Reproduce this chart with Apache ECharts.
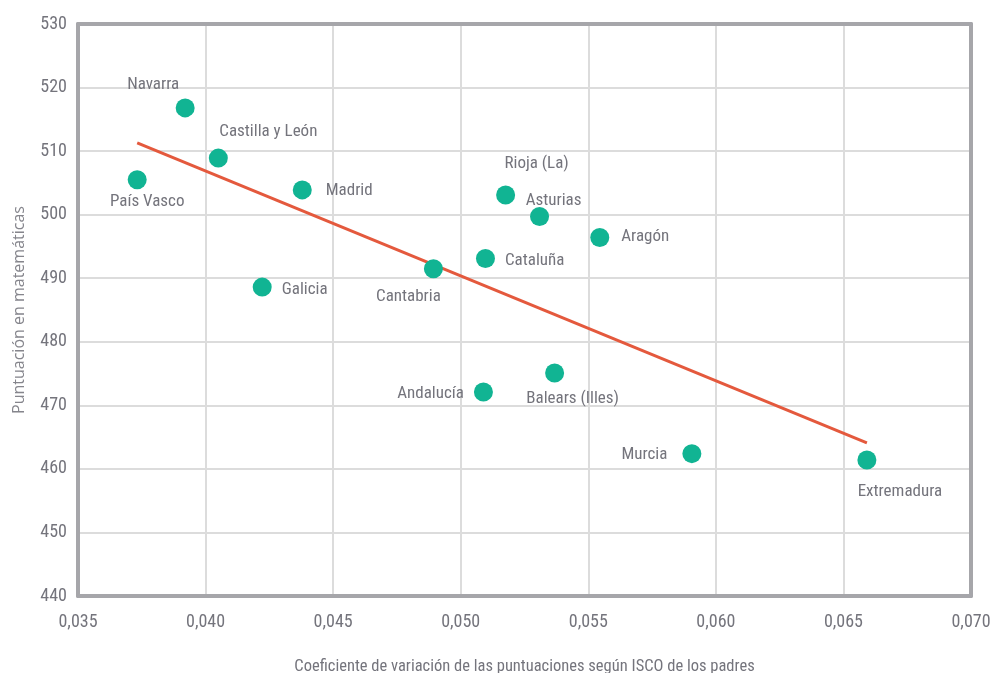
<!DOCTYPE html>
<html><head><meta charset="utf-8">
<script src="https://cdn.jsdelivr.net/npm/echarts@6/dist/echarts.min.js"></script>
<style>html,body{margin:0;padding:0;background:#fff}#c{width:995px;height:673px}</style>
</head><body><div id="c"></div>
<script>
const regions = ['Navarra','Castilla y León','País Vasco','Madrid','Galicia','Cantabria','Cataluña','Rioja (La)','Asturias','Aragón','Andalucía','Balears (Illes)','Murcia','Extremadura'];
const coefVar = [0.0392,0.0405,0.03732,0.04379,0.04222,0.04893,0.05097,0.05176,0.05309,0.05545,0.05089,0.05368,0.05906,0.06592];
const mathScore = [516.8,508.9,505.5,503.9,488.6,491.5,493.1,503.1,499.7,496.4,472.1,475.1,462.4,461.4];
const trendX = [0.03732,0.06592];
const trendY = [511.3,464.1];
const xTicks = ['0,035','0,040','0,045','0,050','0,055','0,060','0,065','0,070'];

const labelPos = {
 'Navarra':['top',[-32,0]],
 'Castilla y León':['top',[50,-3]],
 'País Vasco':['bottom',[10,-1]],
 'Madrid':['right',[9,1]],
 'Galicia':['right',[5,3]],
 'Cantabria':['bottom',[-25,5]],
 'Cataluña':['right',[5,2]],
 'Rioja (La)':['top',[31,-8]],
 'Asturias':['top',[14,7]],
 'Aragón':['right',[7,-1]],
 'Andalucía':['left',[-5,2]],
 'Balears (Illes)':['bottom',[18,3]],
 'Murcia':['left',[-10,1]],
 'Extremadura':['bottom',[33,9]]
};
const FONT = "'Roboto Condensed','DejaVu Sans Condensed',sans-serif";
const TXT = '#74747c';
const BORDER = {show:true,onZero:false,lineStyle:{color:'#a6a6aa',width:4}};
const pts = regions.map((r,i)=>({
  name:r, value:[coefVar[i],mathScore[i]],
  label:{show:true, formatter:r, position:labelPos[r][0], offset:labelPos[r][1], distance:5}
}));
const chart = echarts.init(document.getElementById('c'));
chart.setOption({
  animation:false,
  textStyle:{fontFamily:FONT},
  grid:{left:78,right:24,top:24,bottom:77,containLabel:false,outerBoundsMode:'none'},
  xAxis:[{type:'value',min:0.035,max:0.070,interval:0.005,position:'bottom',
    name:'Coeficiente de variación de las puntuaciones según ISCO de los padres',
    nameLocation:'middle',nameGap:62,nameTextStyle:{color:TXT,fontSize:16.5,fontFamily:FONT},
    axisLine:BORDER,axisTick:{show:false},
    axisLabel:{color:TXT,fontSize:18,fontFamily:FONT,margin:17,formatter:(v)=>{const i=Math.round((v-0.035)/0.005);return xTicks[i]||'';}},
    splitLine:{show:true,lineStyle:{color:'#dcdcdc',width:2}}},
   {type:'value',min:0.035,max:0.070,interval:0.005,position:'top',
    axisLine:BORDER,axisTick:{show:false},axisLabel:{show:false},splitLine:{show:false}}],
  yAxis:[{type:'value',min:440,max:530,interval:10,position:'left',
    name:'Puntuación en matemáticas',nameLocation:'middle',nameGap:51,
    nameTextStyle:{color:'#85858c',fontSize:16,fontFamily:"'Open Sans','Noto Sans',sans-serif"},
    axisLine:BORDER,axisTick:{show:false},
    axisLabel:{color:TXT,fontSize:18,fontFamily:FONT,margin:11},
    splitLine:{show:true,lineStyle:{color:'#dcdcdc',width:2}}},
   {type:'value',min:440,max:530,interval:10,position:'right',
    axisLine:BORDER,axisTick:{show:false},axisLabel:{show:false},splitLine:{show:false}}],
  series:[
    {type:'line',data:trendX.map((x,i)=>[x,trendY[i]]),symbol:'none',lineStyle:{color:'#e4593d',width:3},z:3},
    {type:'scatter',data:pts,symbolSize:19,itemStyle:{color:'#11b493',opacity:1},
     label:{color:TXT,fontSize:17,fontFamily:FONT},z:4}
  ]
});
</script></body></html>
